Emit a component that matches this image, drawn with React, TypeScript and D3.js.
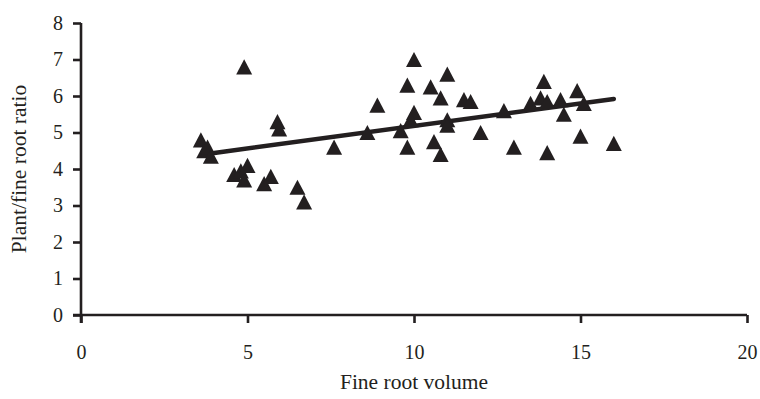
import React, { useEffect, useRef } from "react";
import * as d3 from "d3";

// fine root volume (x) vs plant/fine root ratio (y)
const rootVolume = [
  3.6, 3.7, 3.8, 3.9, 4.6, 4.8, 4.9, 5.0, 4.9, 5.5, 5.7, 5.9, 5.95, 6.5, 6.7,
  7.6, 8.6, 8.9, 9.6, 9.8, 9.8, 10.0, 10.0, 9.9, 10.5, 10.6, 10.8, 10.8, 11.0,
  11.0, 11.0, 11.5, 11.7, 12.0, 12.7, 13.0, 13.5, 13.8, 13.9, 14.0, 14.0, 14.4,
  14.5, 14.9, 15.0, 15.1, 16.0
];
const plantRatio = [
  4.8, 4.5, 4.6, 4.35, 3.85, 3.95, 3.7, 4.1, 6.8, 3.6, 3.8, 5.3, 5.1, 3.5, 3.1,
  4.6, 5.0, 5.75, 5.05, 6.3, 4.6, 7.0, 5.55, 5.35, 6.25, 4.75, 5.95, 4.4, 6.6,
  5.35, 5.2, 5.9, 5.85, 5.0, 5.6, 4.6, 5.8, 5.95, 6.4, 5.85, 4.45, 5.9, 5.5,
  6.15, 4.9, 5.8, 4.7
];

// fitted line end points
const trendX = [4.0, 16.0];
const trendY = [4.44, 5.92];

const xTicks = [0, 5, 10, 15, 20];
const yTicks = [0, 1, 2, 3, 4, 5, 6, 7, 8];

// triangle a bit taller than equilateral, centred between apex and base
const tallTriangle = {
  draw(ctx: any, size: number) {
    const w = Math.sqrt(size);
    const h = w * 0.95;
    ctx.moveTo(0, -h / 2);
    ctx.lineTo(w / 2, h / 2);
    ctx.lineTo(-w / 2, h / 2);
    ctx.closePath();
  }
};

export default function App() {
  const ref = useRef<SVGSVGElement>(null);

  useEffect(() => {
    drawChart();
  }, []);

  const drawChart = () => {
    const ink = "#231f20";
    const font = "'Liberation Serif', 'DejaVu Serif', serif";

    const svg = d3.select(ref.current);
    svg.selectAll("*").remove();

    const x = d3.scaleLinear().domain([0, 20]).range([81, 747]);
    const y = d3.scaleLinear().domain([0, 8]).range([315, 23]);

    // x axis
    const xAxis = svg.append("g")
      .attr("transform", `translate(0,${y(0)})`)
      .call(d3.axisBottom(x).tickValues(xTicks).tickSize(8).tickPadding(22).tickSizeOuter(0));
    xAxis.select(".domain").attr("d", `M${x(0) - 8},0H${x(20)}`);

    // y axis
    const yAxis = svg.append("g")
      .attr("transform", `translate(${x(0)},0)`)
      .call(d3.axisLeft(y).tickValues(yTicks).tickSize(8).tickPadding(10).tickSizeOuter(0));
    yAxis.select(".domain").attr("d", `M0,${y(8)}V${y(0) + 8}`);

    svg.selectAll(".domain, .tick line")
      .attr("stroke", ink)
      .attr("stroke-width", 2.6);
    svg.selectAll(".tick text")
      .attr("fill", ink)
      .style("font-family", font)
      .style("font-size", "20px");

    // trend line
    const pts = trendX.map((d, i) => [d, trendY[i]] as [number, number]);
    svg.append("path")
      .attr("d", d3.line().x(d => x(d[0])).y(d => y(d[1]))(pts))
      .attr("stroke", ink)
      .attr("stroke-width", 4.5)
      .attr("stroke-linecap", "round")
      .attr("fill", "none");

    // triangles
    const tri = d3.symbol().type(tallTriangle as any).size(256);
    svg.append("g")
      .selectAll("path")
      .data(rootVolume.map((d, i) => [d, plantRatio[i]]))
      .enter()
      .append("path")
      .attr("d", tri)
      .attr("transform", d => `translate(${x(d[0])},${y(d[1])})`)
      .attr("fill", ink);

    // axis titles
    svg.append("text")
      .attr("x", x(10))
      .attr("y", 389)
      .attr("text-anchor", "middle")
      .attr("fill", ink)
      .style("font-family", font)
      .style("font-size", "21.5px")
      .text("Fine root volume");

    svg.append("text")
      .attr("transform", `translate(26,${y(4)}) rotate(-90)`)
      .attr("text-anchor", "middle")
      .attr("fill", ink)
      .style("font-family", font)
      .style("font-size", "21.5px")
      .text("Plant/fine root ratio");
  };

  return (
    <svg ref={ref} width={760} height={399}
      style={{ position: "absolute", left: 0, top: 0, background: "#fff" }} />
  );
}
